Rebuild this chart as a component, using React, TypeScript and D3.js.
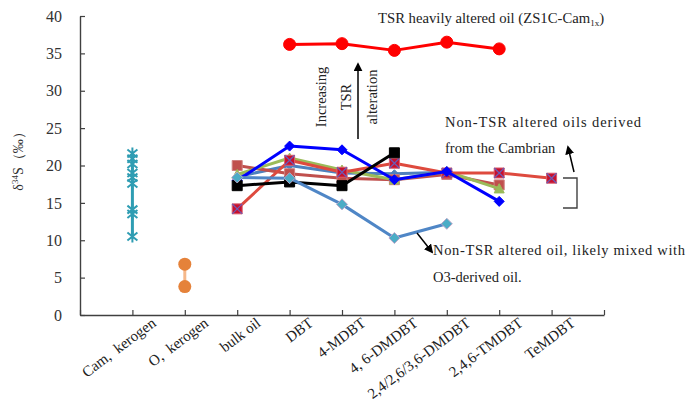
import React, { useEffect, useRef } from "react";
import * as d3 from "d3";

// categories on the x axis
const categories = [
  "Cam,\u2002kerogen",
  "O,\u2002kerogen",
  "bulk oil",
  "DBT",
  "4-MDBT",
  "4, 6-DMDBT",
  "2,4/2,6/3,6-DMDBT",
  "2,4,6-TMDBT",
  "TeMDBT",
];
const oilCategories = categories.slice(2);
const yTicks = [0, 5, 10, 15, 20, 25, 30, 35, 40];

// kerogen values
const camKerogen = [21.6, 20.9, 20.2, 19.0, 18.4, 17.6, 14.1, 13.5, 10.5];
const oKerogen = [6.8, 3.8];

// oil series: bulk oil, DBT, 4-MDBT, 4,6-DMDBT, 2,4/2,6/3,6-DMDBT, 2,4,6-TMDBT, TeMDBT
const steelOil = [18.5, 20.0, 19.0, 18.9, 19.1, null, null];
const brownOil = [20.0, 18.9, 18.3, 18.1, 18.8, 17.4, null];
const greenOil = [18.8, 21.0, 19.4, 18.1, 19.2, 16.9, null];
const redOil = [14.2, 20.7, 19.1, 20.3, 19.0, 19.0, 18.3];
const blueOil = [18.0, 22.6, 22.1, 18.1, 19.2, 15.2, null];
const blackOil = [17.3, 17.8, 17.3, 21.7, null, null, null];
const mixedOil = [18.4, 18.3, 14.8, 10.3, 12.2, null, null];
const tsrOil = [null, 36.2, 36.3, 35.4, 36.5, 35.6, null];

const seriesStyles = [
  { values: steelOil, line: "#4F81BD", marker: "diamond", fill: "#4F81BD", stroke: "#4F81BD", r: 4 },
  { values: brownOil, line: "#C0504D", marker: "square", fill: "#C0504D", stroke: "#D08080", r: 5 },
  { values: greenOil, line: "#9BBB59", marker: "triangle", fill: "#9BBB59", stroke: "#9BBB59", r: 5 },
  { values: redOil, line: "#DE4A3E", marker: "xsquare", fill: "#C8102E", stroke: "#D86070", r: 5 },
  { values: blueOil, line: "#0000FF", marker: "diamond", fill: "#0000FF", stroke: "#0000FF", r: 5 },
  { values: blackOil, line: "#000000", marker: "square", fill: "#000000", stroke: "#000000", r: 5 },
  { values: mixedOil, line: "#4F86C6", marker: "diamond", fill: "#4BACC6", stroke: "#BBA5C8", r: 5.5 },
  { values: tsrOil, line: "#FF0000", marker: "circle", fill: "#FF0000", stroke: "#FF0000", r: 6 },
];

const markerPath = (type, r) => {
  if (type === "square" || type === "xsquare") return `M${-r},${-r}h${2 * r}v${2 * r}h${-2 * r}Z`;
  if (type === "diamond") return `M0,${-r}L${r},0L0,${r}L${-r},0Z`;
  if (type === "triangle") return `M0,${-r}L${r},${r * 0.85}L${-r},${r * 0.85}Z`;
  if (type === "circle") return d3.symbol(d3.symbolCircle, Math.PI * r * r)();
  return "";
};

const App = () => {
  const svgRef = useRef(null);

  useEffect(() => {
    const width = 689;
    const height = 403;
    const serif = "'Liberation Serif', 'Times New Roman', serif";

    d3.select(svgRef.current).selectAll("*").remove();

    const svg = d3
      .select(svgRef.current)
      .attr("width", width)
      .attr("height", height)
      .style("font-family", serif);

    const defs = svg.append("defs");
    defs
      .append("marker")
      .attr("id", "arrowHead")
      .attr("viewBox", "0 0 10 10")
      .attr("refX", 8)
      .attr("refY", 5)
      .attr("markerWidth", 9)
      .attr("markerHeight", 9)
      .attr("markerUnits", "userSpaceOnUse")
      .attr("orient", "auto")
      .append("path")
      .attr("d", "M0,0L10,5L0,10Z")
      .attr("fill", "#000");

    const x = d3
      .scalePoint()
      .domain(["_start", ...categories, "_end"])
      .range([80, 604]);

    const y = d3.scaleLinear().domain([0, 40]).range([315, 16]);

    // y axis
    const yAxis = svg
      .append("g")
      .attr("transform", "translate(80,0)")
      .call(d3.axisLeft(y).tickValues(yTicks).tickSizeInner(-5).tickSizeOuter(0).tickPadding(18));
    yAxis.select(".domain").attr("stroke", "#404040").attr("stroke-width", 1.4);
    yAxis.selectAll(".tick line").attr("stroke", "#404040").attr("stroke-width", 1.2);
    yAxis
      .selectAll(".tick text")
      .attr("fill", "#333")
      .style("font-size", "16px")
      .style("font-family", serif);

    // x axis
    const xAxis = svg
      .append("g")
      .attr("transform", "translate(0,315)")
      .call(
        d3
          .axisBottom(x)
          .tickSizeInner(-5)
          .tickSizeOuter(0)
          .tickFormat((d) => (d.startsWith("_") ? "" : d))
      );
    xAxis.select(".domain").attr("stroke", "#404040").attr("stroke-width", 1.4);
    xAxis.selectAll(".tick line").attr("stroke", "#404040").attr("stroke-width", 1.2);
    xAxis
      .selectAll(".tick text")
      .attr("x", 0)
      .attr("y", 0)
      .attr("dy", 0)
      .attr("transform", "translate(24,10) rotate(-37)")
      .attr("fill", "#222")
      .style("text-anchor", "end")
      .style("font-size", "15px")
      .style("font-family", serif);

    // Cam kerogen
    const camX = x(categories[0]);
    svg
      .append("line")
      .attr("x1", camX)
      .attr("x2", camX)
      .attr("y1", y(d3.min(camKerogen)))
      .attr("y2", y(d3.max(camKerogen)))
      .attr("stroke", "#2F9DB3")
      .attr("stroke-width", 3);
    svg
      .append("g")
      .selectAll("path")
      .data(camKerogen)
      .enter()
      .append("path")
      .attr("transform", (d) => `translate(${camX},${y(d)})`)
      .attr("d", "M-5,-4L5,4M5,-4L-5,4M0,-6L0,6")
      .attr("stroke", "#2F9DB3")
      .attr("stroke-width", 2)
      .attr("fill", "none");

    // O kerogen
    const oX = x(categories[1]);
    svg
      .append("line")
      .attr("x1", oX)
      .attr("x2", oX)
      .attr("y1", y(oKerogen[0]))
      .attr("y2", y(oKerogen[1]))
      .attr("stroke", "#F5B88A")
      .attr("stroke-width", 3);
    svg
      .append("g")
      .selectAll("circle")
      .data(oKerogen)
      .enter()
      .append("circle")
      .attr("cx", oX)
      .attr("cy", (d) => y(d))
      .attr("r", 6.5)
      .attr("fill", "#E5823A");

    // oil series
    const line = d3
      .line()
      .defined((d) => d.v !== null)
      .x((d) => x(d.c))
      .y((d) => y(d.v));

    seriesStyles.forEach((s) => {
      const pts = s.values.map((v, i) => ({ c: oilCategories[i], v }));
      const g = svg.append("g");
      g.append("path")
        .datum(pts)
        .attr("d", line)
        .attr("fill", "none")
        .attr("stroke", s.line)
        .attr("stroke-width", 3)
        .attr("stroke-linejoin", "round");
      const m = g
        .selectAll("g.mk")
        .data(pts.filter((d) => d.v !== null))
        .enter()
        .append("g")
        .attr("class", "mk")
        .attr("transform", (d) => `translate(${x(d.c)},${y(d.v)})`);
      m.append("path")
        .attr("d", markerPath(s.marker, s.r))
        .attr("fill", s.fill)
        .attr("stroke", s.stroke)
        .attr("stroke-width", 1);
      if (s.marker === "xsquare") {
        m.append("path")
          .attr("d", `M${-s.r},${-s.r}L${s.r},${s.r}M${s.r},${-s.r}L${-s.r},${s.r}`)
          .attr("stroke", "#6A5CB8")
          .attr("stroke-width", 1.2);
      }
    });

    // y axis title
    const yTitle = svg
      .append("text")
      .attr("transform", "translate(23,158) rotate(-90)")
      .attr("text-anchor", "middle")
      .attr("fill", "#333")
      .style("font-size", "14px");
    yTitle.append("tspan").text("δ");
    yTitle.append("tspan").attr("dy", -5).style("font-size", "9px").text("34");
    yTitle.append("tspan").attr("dy", 5).text("S（‰）");

    // annotations
    const title = svg
      .append("text")
      .attr("x", 378)
      .attr("y", 23)
      .attr("fill", "#222")
      .style("font-size", "14.7px");
    title.append("tspan").text("TSR heavily altered oil (ZS1C-Cam");
    title.append("tspan").attr("dy", 3).style("font-size", "9px").text("1x");
    title.append("tspan").attr("dy", -3).text(")");

    [
      { t: "Increasing", tx: 326 },
      { t: "TSR", tx: 351 },
      { t: "alteration", tx: 377 },
    ].forEach((a) => {
      svg
        .append("text")
        .attr("transform", `translate(${a.tx},97) rotate(-90)`)
        .attr("text-anchor", "middle")
        .attr("fill", "#222")
        .style("font-size", "14.5px")
        .text(a.t);
    });
    svg
      .append("line")
      .attr("x1", 358)
      .attr("y1", 139)
      .attr("x2", 358)
      .attr("y2", 64)
      .attr("stroke", "#000")
      .attr("stroke-width", 1.5)
      .attr("marker-end", "url(#arrowHead)");

    svg
      .append("text")
      .attr("x", 445)
      .attr("y", 127)
      .attr("textLength", 196)
      .attr("lengthAdjust", "spacing")
      .attr("fill", "#222")
      .style("font-size", "14.5px")
      .text("Non-TSR altered oils derived");
    svg
      .append("text")
      .attr("x", 445)
      .attr("y", 153)
      .attr("fill", "#222")
      .style("font-size", "14.5px")
      .text("from the Cambrian");
    svg
      .append("line")
      .attr("x1", 574)
      .attr("y1", 172)
      .attr("x2", 568)
      .attr("y2", 147)
      .attr("stroke", "#000")
      .attr("stroke-width", 1.5)
      .attr("marker-end", "url(#arrowHead)");
    svg
      .append("path")
      .attr("d", "M563,178H577V208H563")
      .attr("fill", "none")
      .attr("stroke", "#404040")
      .attr("stroke-width", 1.4);

    svg
      .append("text")
      .attr("x", 433)
      .attr("y", 255)
      .attr("textLength", 252)
      .attr("lengthAdjust", "spacing")
      .attr("fill", "#222")
      .style("font-size", "14.5px")
      .text("Non-TSR altered oil, likely mixed with");
    svg
      .append("text")
      .attr("x", 433)
      .attr("y", 282)
      .attr("fill", "#222")
      .style("font-size", "14.5px")
      .text("O3-derived oil.");
    svg
      .append("line")
      .attr("x1", 417)
      .attr("y1", 233)
      .attr("x2", 432)
      .attr("y2", 252)
      .attr("stroke", "#000")
      .attr("stroke-width", 1.5)
      .attr("marker-end", "url(#arrowHead)");
  }, []);

  return <svg ref={svgRef} style={{ position: "absolute", left: 0, top: 0 }}></svg>;
};

export default App;
